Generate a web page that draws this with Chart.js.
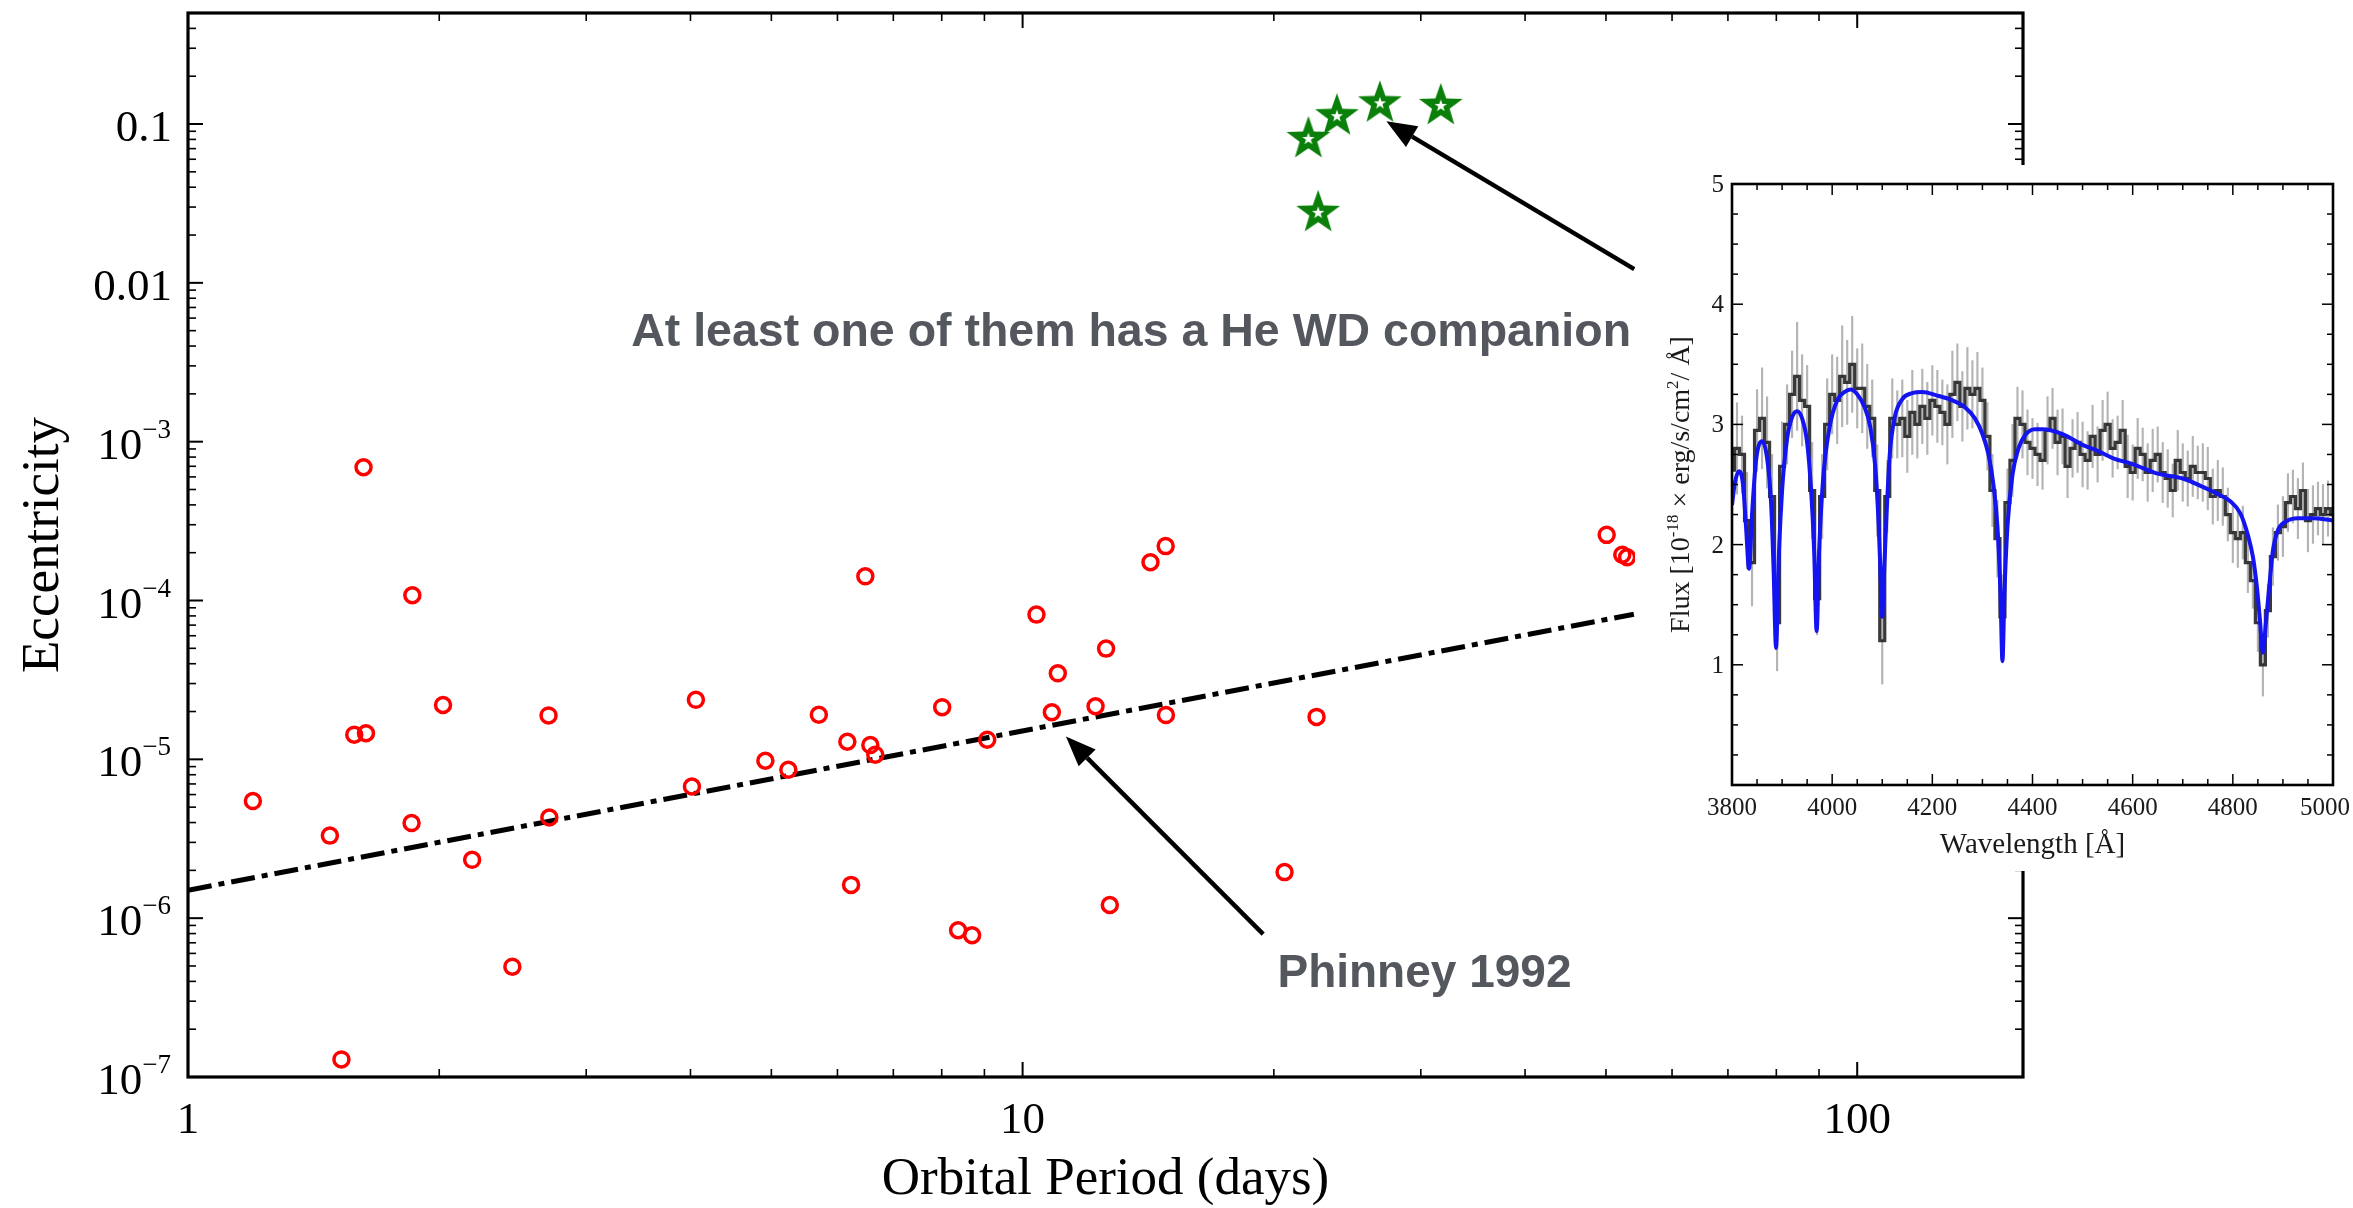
<!DOCTYPE html>
<html>
<head>
<meta charset="utf-8">
<title>Eccentricity vs orbital period</title>
<script src="https://cdn.jsdelivr.net/npm/chart.js@4.4.1/dist/chart.umd.min.js"></script>
<style>
  html, body { margin: 0; padding: 0; background: #fff; }
  #wrap { position: relative; width: 2353px; height: 1208px; overflow: hidden; }
  #main { position: absolute; left: 0; top: 0; }
  #inset { position: absolute; left: 1635px; top: 165px; background: #fff; }
</style>
</head>
<body>
<div id="wrap">
  <canvas id="main" width="2353" height="1208"></canvas>
  <canvas id="inset" width="718" height="706"></canvas>
</div>
<script>
// binary pulsars: orbital period (days) and eccentricity
const periods = [1.196, 1.479, 1.527, 1.582, 1.634, 1.623, 1.857, 1.853, 2.021, 2.19,
                 2.447, 2.704, 2.71, 4.06, 4.016, 4.918, 5.24, 6.48, 5.70, 6.166,
                 6.57, 6.66, 6.23, 8.01, 9.07, 8.37, 8.70, 10.39, 11.02, 10.84,
                 12.59, 12.23, 12.72, 14.23, 14.84, 14.85, 22.5, 20.6, 50.1, 52.3, 53.0];
const eccs = [5.46e-6, 3.31e-6, 1.29e-7, 1.43e-5, 1.46e-5, 6.9e-4, 1.08e-4, 3.97e-6, 2.2e-5, 2.33e-6,
              4.95e-7, 1.89e-5, 4.3e-6, 2.37e-5, 6.75e-6, 9.8e-6, 8.6e-6, 1.42e-4, 1.91e-5, 1.29e-5,
              1.23e-5, 1.07e-5, 1.62e-6, 2.13e-5, 1.33e-5, 8.4e-7, 7.8e-7, 8.15e-5, 3.48e-5, 1.98e-5,
              4.98e-5, 2.16e-5, 1.21e-6, 1.74e-4, 2.2e-4, 1.9e-5, 1.85e-5, 1.95e-6, 2.59e-4, 1.94e-4, 1.87e-4];

// eccentric MSPs (green stars)
const starPeriods = [22.0, 23.8, 26.8, 31.7, 22.6];
const starEccs = [0.0805, 0.112, 0.135, 0.13, 0.0276];

// Phinney 1992 relation
const phinneyP = [1, 54];
const phinneyE = [1.5e-6, 8.2e-5];

const xMajor = [1, 10, 100];
const xTickLabels = ['1', '10', '100'];
const yMajor = [1e-7, 1e-6, 1e-5, 1e-4, 1e-3, 0.01, 0.1];
const yTickLabels = [['10', '\u22127'], ['10', '\u22126'], ['10', '\u22125'], ['10', '\u22124'],
                     ['10', '\u22123'], ['0.01', ''], ['0.1', '']];

// inset: spectrum of the companion
const specWave = [3800, 3810, 3820, 3830, 3840, 3850, 3860, 3870, 3880, 3890,
                  3900, 3910, 3920, 3930, 3940, 3950, 3960, 3970, 3980, 3990,
                  4000, 4010, 4020, 4030, 4040, 4050, 4060, 4070, 4080, 4090,
                  4100, 4110, 4120, 4130, 4140, 4150, 4160, 4170, 4180, 4190,
                  4200, 4210, 4220, 4230, 4240, 4250, 4260, 4270, 4280, 4290,
                  4300, 4310, 4320, 4330, 4340, 4350, 4360, 4370, 4380, 4390,
                  4400, 4410, 4420, 4430, 4440, 4450, 4460, 4470, 4480, 4490,
                  4500, 4510, 4520, 4530, 4540, 4550, 4560, 4570, 4580, 4590,
                  4600, 4610, 4620, 4630, 4640, 4650, 4660, 4670, 4680, 4690,
                  4700, 4710, 4720, 4730, 4740, 4750, 4760, 4770, 4780, 4790,
                  4800, 4810, 4820, 4830, 4840, 4850, 4860, 4870, 4880, 4890,
                  4900, 4910, 4920, 4930, 4940, 4950, 4960, 4970, 4980, 4990, 5000];
const specFlux = [2.62, 2.80, 2.75, 2.20, 1.85, 2.95, 3.05, 2.85, 2.40, 1.35,
                  2.65, 3.00, 3.25, 3.40, 3.20, 3.15, 2.45, 1.55, 2.40, 3.00,
                  3.25, 3.20, 3.40, 3.35, 3.50, 3.30, 3.30, 3.15, 3.05, 2.45,
                  1.20, 2.40, 3.05, 3.00, 3.05, 2.90, 3.10, 3.00, 3.15, 3.05,
                  3.20, 3.15, 3.10, 3.00, 3.25, 3.35, 3.15, 3.30, 3.25, 3.30,
                  3.20, 2.90, 2.45, 2.05, 1.40, 2.35, 2.70, 3.05, 3.00, 2.85,
                  2.80, 2.75, 2.70, 2.95, 3.05, 2.85, 2.90, 2.65, 2.80, 2.85,
                  2.75, 2.70, 2.90, 2.75, 2.95, 3.00, 2.80, 2.85, 2.95, 2.65,
                  2.60, 2.80, 2.75, 2.60, 2.70, 2.75, 2.60, 2.55, 2.45, 2.70,
                  2.60, 2.55, 2.65, 2.60, 2.60, 2.55, 2.40, 2.45, 2.40, 2.25,
                  2.10, 2.05, 2.10, 1.85, 1.70, 1.35, 1.00, 1.45, 1.90, 2.10,
                  2.15, 2.35, 2.40, 2.30, 2.45, 2.20, 2.25, 2.30, 2.25, 2.30, 2.25];
const specErr = [0.35, 0.38, 0.32, 0.40, 0.36, 0.34, 0.42, 0.38, 0.35, 0.40,
                 0.37, 0.33, 0.36, 0.45, 0.38, 0.34, 0.40, 0.30, 0.35, 0.38,
                 0.33, 0.36, 0.42, 0.35, 0.40, 0.33, 0.37, 0.35, 0.32, 0.38,
                 0.36, 0.30, 0.33, 0.28, 0.32, 0.30, 0.35, 0.28, 0.31, 0.30,
                 0.29, 0.30, 0.27, 0.33, 0.36, 0.32, 0.29, 0.34, 0.28, 0.30,
                 0.27, 0.28, 0.30, 0.32, 0.35, 0.28, 0.30, 0.26, 0.28, 0.27,
                 0.25, 0.26, 0.24, 0.28, 0.25, 0.27, 0.23, 0.26, 0.24, 0.25,
                 0.27, 0.24, 0.26, 0.23, 0.25, 0.27, 0.24, 0.22, 0.25, 0.26,
                 0.23, 0.25, 0.22, 0.24, 0.26, 0.23, 0.25, 0.24, 0.22, 0.25,
                 0.24, 0.23, 0.25, 0.22, 0.24, 0.26, 0.23, 0.25, 0.24, 0.22,
                 0.25, 0.24, 0.22, 0.25, 0.23, 0.24, 0.26, 0.22, 0.24, 0.23,
                 0.25, 0.24, 0.22, 0.25, 0.23, 0.26, 0.24, 0.22, 0.25, 0.23, 0.24];

// model fit (blue)
const modelWave = [3800, 3806, 3814, 3822, 3828, 3834, 3840, 3848, 3860, 3870,
                   3878, 3883, 3888, 3893, 3900, 3910, 3920, 3930, 3940, 3950,
                   3958, 3964, 3969, 3974, 3982, 3995, 4010, 4025, 4037, 4050,
                   4065, 4076, 4086, 4093, 4097, 4100, 4103, 4108, 4115, 4125,
                   4140, 4160, 4180, 4210, 4240, 4263, 4285, 4300, 4312, 4322,
                   4330, 4336, 4340, 4344, 4350, 4360, 4372, 4385, 4405, 4420,
                   4460, 4500, 4530, 4560, 4600, 4650, 4700, 4740, 4770, 4795,
                   4815, 4830, 4840, 4848, 4854, 4860, 4866, 4872, 4880, 4890,
                   4905, 4930, 4960, 5000];
const modelFlux = [2.33, 2.52, 2.61, 2.50, 2.15, 1.80, 2.25, 2.70, 2.86, 2.72,
                   2.35, 1.80, 1.14, 1.85, 2.45, 2.88, 3.06, 3.11, 3.05, 2.85,
                   2.45, 1.95, 1.28, 1.95, 2.55, 2.98, 3.20, 3.27, 3.29, 3.25,
                   3.14, 2.98, 2.65, 2.15, 1.70, 1.40, 1.70, 2.20, 2.75, 3.06,
                   3.21, 3.26, 3.27, 3.24, 3.20, 3.15, 3.05, 2.92, 2.75, 2.50,
                   2.15, 1.60, 1.03, 1.60, 2.15, 2.58, 2.80, 2.91, 2.96, 2.96,
                   2.92, 2.83, 2.78, 2.72, 2.67, 2.59, 2.55, 2.48, 2.42, 2.36,
                   2.26, 2.08, 1.90, 1.65, 1.38, 1.10, 1.35, 1.62, 1.95, 2.12,
                   2.19, 2.22, 2.22, 2.20];

const insetXTicks = [3800, 4000, 4200, 4400, 4600, 4800, 5000];
const insetYTicks = [1, 2, 3, 4, 5];

const SERIF = '"Liberation Serif", "Times New Roman", serif';
const SANS = '"Liberation Sans", Arial, Helvetica, sans-serif';

// green star with a little white star inside
function makeStar() {
    const c = document.createElement('canvas');
    c.width = 52;
    c.height = 52;
    const g = c.getContext('2d');
    function star(R, r, color) {
        g.beginPath();
        for (let i = 0; i < 10; i++) {
            const rad = i % 2 ? r : R;
            const ang = -Math.PI / 2 + i * Math.PI / 5;
            g.lineTo(26 + rad * Math.cos(ang), 26 + rad * Math.sin(ang));
        }
        g.closePath();
        g.fillStyle = color;
        g.fill();
    }
    star(23, 9.3, '#0a800a');
    star(6.5, 2.6, '#ffffff');
    return c;
}

function drawArrow(ctx, x1, y1, x2, y2) {
    const ang = Math.atan2(y2 - y1, x2 - x1);
    const headLen = 30, headW = 12;
    const bx = x2 - headLen * Math.cos(ang), by = y2 - headLen * Math.sin(ang);
    ctx.beginPath();
    ctx.moveTo(x1, y1);
    ctx.lineTo(bx, by);
    ctx.lineWidth = 4.5;
    ctx.strokeStyle = '#000';
    ctx.stroke();
    ctx.beginPath();
    ctx.moveTo(x2, y2);
    ctx.lineTo(bx + headW * Math.sin(ang), by - headW * Math.cos(ang));
    ctx.lineTo(bx - headW * Math.sin(ang), by + headW * Math.cos(ang));
    ctx.closePath();
    ctx.fillStyle = '#000';
    ctx.fill();
}

// axes frame, inward ticks, labels and annotations of the main plot
const mainFrame = {
    id: 'mainFrame',
    afterDraw(chart) {
        const {ctx, chartArea: a, scales: {x, y}} = chart;
        ctx.save();

        let xMinor = [], yMinor = [];
        for (let d = 1; d <= 10; d *= 10) for (let k = 2; k <= 9; k++) xMinor.push(k * d);
        for (let e = -7; e <= -1; e++) for (let k = 2; k <= 9; k++) {
            const v = k * Math.pow(10, e);
            if (v <= 0.5) yMinor.push(v);
        }

        ctx.strokeStyle = '#000';
        const tick = (x1, y1, x2, y2, w) => {
            ctx.lineWidth = w;
            ctx.beginPath();
            ctx.moveTo(x1, y1);
            ctx.lineTo(x2, y2);
            ctx.stroke();
        };
        xMajor.forEach(v => {
            const px = x.getPixelForValue(v);
            tick(px, a.bottom, px, a.bottom - 15, 2);
            tick(px, a.top, px, a.top + 15, 2);
        });
        xMinor.forEach(v => {
            const px = x.getPixelForValue(v);
            tick(px, a.bottom, px, a.bottom - 8, 1.6);
            tick(px, a.top, px, a.top + 8, 1.6);
        });
        yMajor.forEach(v => {
            const py = y.getPixelForValue(v);
            tick(a.left, py, a.left + 15, py, 2);
            tick(a.right, py, a.right - 15, py, 2);
        });
        yMinor.forEach(v => {
            const py = y.getPixelForValue(v);
            tick(a.left, py, a.left + 8, py, 1.6);
            tick(a.right, py, a.right - 8, py, 1.6);
        });

        ctx.lineWidth = 3.2;
        ctx.strokeRect(a.left, a.top, a.right - a.left, a.bottom - a.top);

        // tick labels
        ctx.fillStyle = '#000';
        ctx.font = '45px ' + SERIF;
        ctx.textAlign = 'center';
        ctx.textBaseline = 'alphabetic';
        xMajor.forEach((v, i) => {
            ctx.fillText(xTickLabels[i], x.getPixelForValue(v), a.bottom + 56);
        });
        const right = a.left - 16;
        yMajor.forEach((v, i) => {
            const py = y.getPixelForValue(v);
            const [base, exp] = yTickLabels[i];
            ctx.font = '27px ' + SERIF;
            const we = exp ? ctx.measureText(exp).width + 1 : 0;
            ctx.textAlign = 'left';
            if (exp) ctx.fillText(exp, right - we, py - 4);
            ctx.font = '45px ' + SERIF;
            ctx.textAlign = 'right';
            ctx.fillText(base, right - we, py + 17);
        });

        // axis titles
        ctx.font = '53px ' + SERIF;
        ctx.textAlign = 'center';
        ctx.fillText('Orbital Period (days)', (a.left + a.right) / 2, 1194);
        ctx.save();
        ctx.translate(58, (a.top + a.bottom) / 2);
        ctx.rotate(-Math.PI / 2);
        ctx.fillText('Eccentricity', 0, 0);
        ctx.restore();

        // annotations
        drawArrow(ctx, x.getPixelForValue(19.42), y.getPixelForValue(7.93e-7),
                  x.getPixelForValue(11.27), y.getPixelForValue(1.39e-5));
        drawArrow(ctx, x.getPixelForValue(54.06), y.getPixelForValue(0.0122),
                  x.getPixelForValue(27.28), y.getPixelForValue(0.104));
        ctx.fillStyle = '#54585e';
        ctx.font = 'bold 46.5px ' + SANS;
        ctx.textAlign = 'left';
        ctx.fillText('At least one of them has a He WD companion',
                     x.getPixelForValue(3.396), y.getPixelForValue(4.02e-3));
        ctx.font = 'bold 46px ' + SANS;
        ctx.fillText('Phinney 1992', x.getPixelForValue(20.2), y.getPixelForValue(3.70e-7));
        ctx.restore();
    }
};

new Chart(document.getElementById('main'), {
    type: 'scatter',
    data: {
        datasets: [
            {
                type: 'line',
                data: phinneyP.map((p, i) => ({x: p, y: phinneyE[i]})),
                borderColor: '#000',
                borderWidth: 5,
                borderDash: [24, 7, 6, 7],
                pointRadius: 0,
                order: 3
            },
            {
                data: periods.map((p, i) => ({x: p, y: eccs[i]})),
                pointStyle: 'circle',
                pointRadius: 7.5,
                borderWidth: 3.5,
                borderColor: '#ff0000',
                backgroundColor: 'rgba(0,0,0,0)',
                order: 2
            },
            {
                data: starPeriods.map((p, i) => ({x: p, y: starEccs[i]})),
                pointStyle: makeStar(),
                pointRadius: 23,
                order: 1
            }
        ]
    },
    options: {
        responsive: false,
        animation: false,
        devicePixelRatio: 1,
        layout: {autoPadding: false, padding: {left: 188, top: 13, right: 330, bottom: 131}},
        plugins: {legend: {display: false}, tooltip: {enabled: false}},
        scales: {
            x: {type: 'logarithmic', min: 1, max: 158, display: false},
            y: {type: 'logarithmic', min: 1e-7, max: 0.5, display: false}
        }
    },
    plugins: [mainFrame]
});

// frame, ticks and labels of the inset
const insetFrame = {
    id: 'insetFrame',
    afterDraw(chart) {
        const {ctx, chartArea: a, scales: {x, y}} = chart;
        ctx.save();
        ctx.strokeStyle = '#000';
        const tick = (x1, y1, x2, y2, w) => {
            ctx.lineWidth = w;
            ctx.beginPath();
            ctx.moveTo(x1, y1);
            ctx.lineTo(x2, y2);
            ctx.stroke();
        };
        for (let w = 3800; w <= 5000; w += 50) {
            const px = x.getPixelForValue(w);
            const len = w % 200 === 0 ? 11 : 6;
            tick(px, a.bottom, px, a.bottom - len, 1.5);
            tick(px, a.top, px, a.top + len, 1.5);
        }
        for (let f = 0.25; f < 5; f += 0.25) {
            const py = y.getPixelForValue(f);
            const len = Math.abs(f - Math.round(f)) < 1e-6 ? 11 : 6;
            tick(a.left, py, a.left + len, py, 1.5);
            tick(a.right, py, a.right - len, py, 1.5);
        }
        ctx.lineWidth = 2.6;
        ctx.strokeRect(a.left, a.top, a.right - a.left, a.bottom - a.top);

        ctx.fillStyle = '#1a1a1a';
        ctx.font = '25px ' + SERIF;
        ctx.textAlign = 'center';
        insetXTicks.forEach(v => {
            // keep the last label inside the picture
            const w = ctx.measureText(String(v)).width;
            const px = Math.min(x.getPixelForValue(v), chart.width - 3 - w / 2);
            ctx.fillText(String(v), px, a.bottom + 30);
        });
        ctx.textAlign = 'right';
        insetYTicks.forEach(v => ctx.fillText(String(v), a.left - 8, y.getPixelForValue(v) + 8));

        ctx.font = '29px ' + SERIF;
        ctx.textAlign = 'center';
        ctx.fillText('Wavelength [\u00c5]', (a.left + a.right) / 2, a.bottom + 68);

        // rotated y title with superscripts
        const parts = [['Flux [10', 28, 0], ['-18', 17, -11], [' \u00d7 erg/s/cm', 28, 0],
                       ['2', 17, -11], ['/ \u00c5]', 28, 0]];
        let total = 0;
        parts.forEach(p => { ctx.font = p[1] + 'px ' + SERIF; total += ctx.measureText(p[0]).width; });
        ctx.translate(a.left - 43, (a.top + a.bottom) / 2);
        ctx.rotate(-Math.PI / 2);
        ctx.textAlign = 'left';
        let cx = -total / 2;
        parts.forEach(p => {
            ctx.font = p[1] + 'px ' + SERIF;
            ctx.fillText(p[0], cx, p[2]);
            cx += ctx.measureText(p[0]).width;
        });
        ctx.restore();
    }
};

new Chart(document.getElementById('inset'), {
    type: 'line',
    data: {
        datasets: [
            {
                type: 'bar',
                data: specWave.map((w, i) => ({x: w, y: [specFlux[i] - specErr[i], specFlux[i] + specErr[i]]})),
                backgroundColor: 'rgba(130,130,130,0.6)',
                barThickness: 1.5,
                order: 3
            },
            {
                data: specWave.map((w, i) => ({x: w, y: specFlux[i]})),
                stepped: 'middle',
                borderColor: 'rgba(35,35,35,0.9)',
                borderWidth: 3.2,
                pointRadius: 0,
                order: 2
            },
            {
                data: modelWave.map((w, i) => ({x: w, y: modelFlux[i]})),
                borderColor: '#1414f0',
                borderWidth: 4,
                pointRadius: 0,
                cubicInterpolationMode: 'monotone',
                order: 1
            }
        ]
    },
    options: {
        responsive: false,
        animation: false,
        devicePixelRatio: 1,
        layout: {autoPadding: false, padding: {left: 97, top: 19, right: 20, bottom: 86}},
        plugins: {legend: {display: false}, tooltip: {enabled: false}},
        scales: {
            x: {type: 'linear', min: 3800, max: 5000, offset: false, display: false},
            y: {type: 'linear', min: 0, max: 5, display: false}
        }
    },
    plugins: [insetFrame]
});
</script>
</body>
</html>
